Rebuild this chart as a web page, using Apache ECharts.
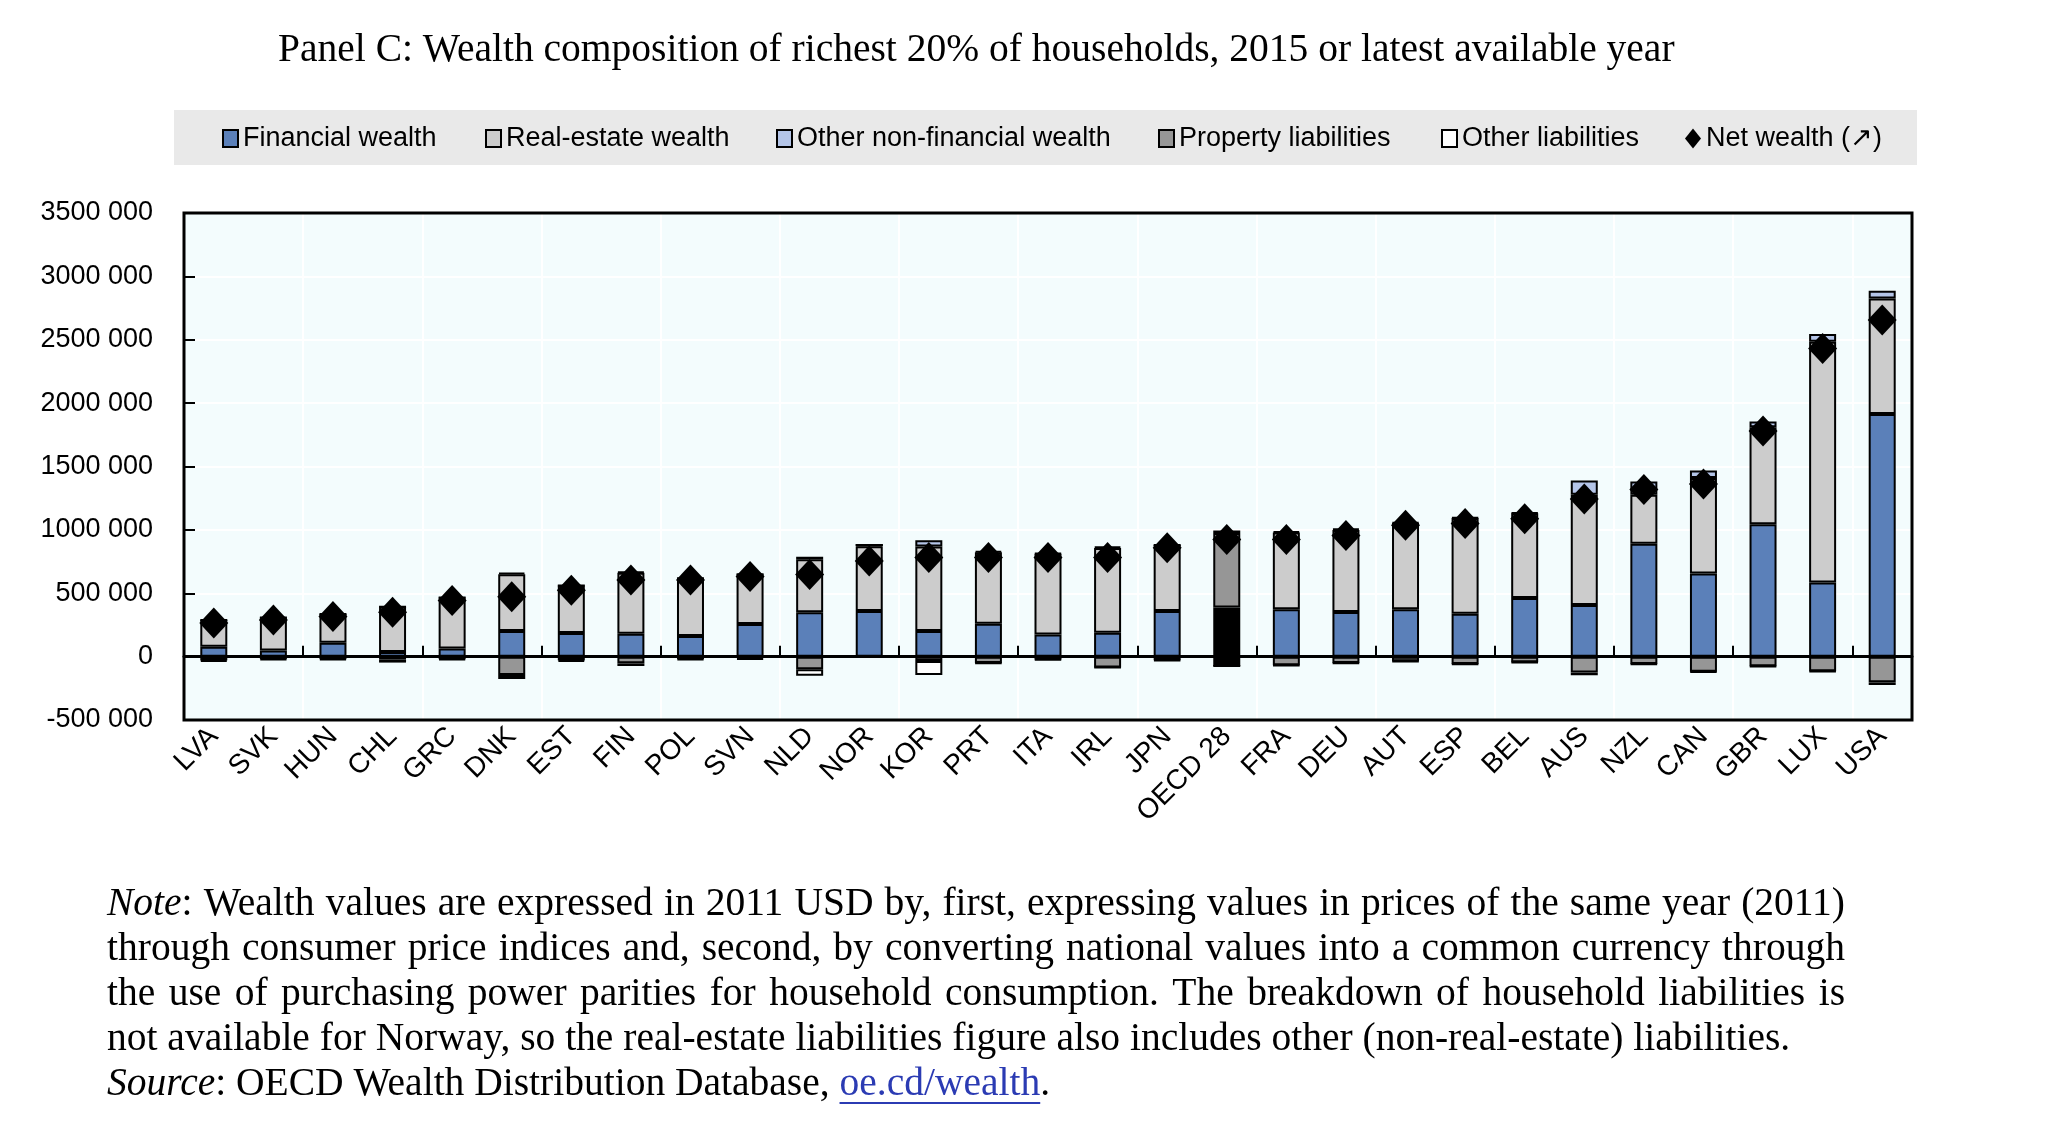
<!DOCTYPE html>
<html><head><meta charset="utf-8">
<script src="https://cdn.jsdelivr.net/npm/echarts@6/dist/echarts.min.js"></script>
<style>html,body{margin:0;padding:0;background:#fff}#c{width:2048px;height:1133px}</style>
</head><body><div id="c"></div>
<script>
const categories = ['LVA','SVK','HUN','CHL','GRC','DNK','EST','FIN','POL','SVN','NLD','NOR','KOR','PRT','ITA','IRL','JPN','OECD 28','FRA','DEU','AUT','ESP','BEL','AUS','NZL','CAN','GBR','LUX','USA'];
const financialWealth = [78000,48000,110000,36000,65000,203000,186000,180000,163000,257000,350000,359000,203000,260000,175000,189000,359000,387000,373000,353000,373000,339000,463000,407000,890000,655000,1045000,585000,1915000];
const realEstateWealth = [210000,260000,226000,357000,401000,446000,376000,481000,456000,393000,418000,512000,665000,563000,636000,668000,522000,588000,606000,647000,681000,755000,668000,870000,387000,755000,765000,1900000,910000];
const otherNonFinancialWealth = [0,0,0,0,0,12000,0,8000,0,0,20000,10000,50000,10000,5000,10000,0,20000,10000,8000,5000,5000,5000,113000,104000,59000,45000,60000,62000];
const propertyLiabilities = [-30000,-20000,-20000,-22000,-20000,-145000,-30000,-53000,-20000,-15000,-100000,0,-35000,-50000,-22000,-85000,-28000,-74000,-68000,-50000,-36000,-58000,-44000,-126000,-58000,-120000,-76000,-115000,-203000];
const otherLiabilities = [-8000,-6000,-6000,-25000,-6000,-32000,-9000,-21000,-6000,-6000,-50000,0,-110000,-3000,-4000,-2000,-4000,0,-3000,-3000,-3000,-3000,-3000,-21000,-3000,-4000,-3000,-3000,-21000];
const netWealth = [265000,288000,316000,350000,443000,472000,523000,605000,605000,633000,647000,754000,782000,782000,782000,782000,859000,924000,924000,955000,1037000,1051000,1088000,1243000,1319000,1362000,1780000,2430000,2655000];

const titleText = 'Panel C: Wealth composition of richest 20% of households, 2015 or latest available year';
const noteLines = [
 '*Note*: Wealth values are expressed in 2011 USD by, first, expressing values in prices of the same year (2011)',
 'through consumer price indices and, second, by converting national values into a common currency through',
 'the use of purchasing power parities for household consumption. The breakdown of household liabilities is',
 'not available for Norway, so the real-estate liabilities figure also includes other (non-real-estate) liabilities.',
 '*Source*: OECD Wealth Distribution Database, [oe.cd/wealth].'
];
const justifyLine = [true,true,true,false,false];

const SANS = "'Liberation Sans Narrow','Arial Narrow','Liberation Sans',Arial,sans-serif";
const SERIF = "'Liberation Serif','Times New Roman',serif";

function withOecd(arr, color){
  return arr.map((v,i)=> categories[i]==='OECD 28' ? {value:v, itemStyle:{color:color}} : v);
}
function fmtY(v){
  if (v===0) return '0';
  const s = v<0?'-':'';
  return s + (Math.abs(v)/1000) + ' 000';
}

// Plot frame geometry
const G = {left:184, top:213, right:1912, bottom:720};

// Note layout (justified, word by word)
const NOTE_FS = 39.5, NOTE_X = 107, NOTE_W = 1738, NOTE_Y0 = 905, NOTE_DY = 45;
const mctx = document.createElement('canvas').getContext('2d');
function fontOf(kind){ return (kind==='i'?'italic ':'') + NOTE_FS + 'px ' + SERIF; }
function measure(t, kind){ mctx.font = fontOf(kind); return mctx.measureText(t).width; }
const noteGraphics = [];
noteLines.forEach((line, li)=>{
  const tokens = line.split(' ').map(tok=>{
    const pieces = [];
    const re = /(\*[^*]+\*|\[[^\]]+\]|[^*\[\]]+)/g; let m;
    while ((m = re.exec(tok))){
      const s = m[0];
      if (s[0]==='*') pieces.push({t:s.slice(1,-1), k:'i'});
      else if (s[0]==='[') pieces.push({t:s.slice(1,-1), k:'l'});
      else pieces.push({t:s, k:'n'});
    }
    pieces.forEach(p=>p.w = measure(p.t, p.k));
    return {pieces, w: pieces.reduce((a,p)=>a+p.w,0)};
  });
  const sum = tokens.reduce((a,t)=>a+t.w,0);
  const gap = justifyLine[li] ? (NOTE_W - sum)/(tokens.length-1) : measure(' ','n');
  let x = NOTE_X; const y = NOTE_Y0 + li*NOTE_DY;
  tokens.forEach(tok=>{
    tok.pieces.forEach(p=>{
      const fill = p.k==='l' ? '#2b3bb3' : '#000';
      noteGraphics.push({type:'text', x:x, y:y, silent:true, style:{text:p.t, font:fontOf(p.k), fill:fill, align:'left', verticalAlign:'middle'}});
      if (p.k==='l') noteGraphics.push({type:'line', silent:true, shape:{x1:x, y1:y+18, x2:x+p.w, y2:y+18}, style:{stroke:'#2b3bb3', lineWidth:2}});
      x += p.w;
    });
    x += gap;
  });
});

const legendSpec = [['Financial wealth',222],['Real-estate wealth',485],['Other non-financial wealth',776],['Property liabilities',1158],['Other liabilities',1441],['Net wealth (↗)',1685]];

const BORDER = {borderColor:'#000', borderWidth:2};
const BW = 27;
const chart = echarts.init(document.getElementById('c'));
chart.setOption({
  animation:false,
  backgroundColor:'#fff',
  title:{text:titleText, left:273, top:26, textStyle:{fontFamily:SERIF, fontSize:39.5, fontWeight:'normal', color:'#000'}},
  graphic:[
    {type:'rect', z:-10, silent:true, shape:{x:174, y:110, width:1743, height:55}, style:{fill:'#e9e9e9'}},
    {type:'rect', z:100, silent:true, shape:{x:G.left, y:G.top, width:G.right-G.left, height:G.bottom-G.top}, style:{fill:null, stroke:'#000', lineWidth:3}}
  ].concat(noteGraphics),
  legend: legendSpec.map(([n,x])=>({
    data:[n], left:x, top:125, padding:0, itemGap:0,
    icon: n.startsWith('Net') ? 'diamond' : 'rect',
    itemWidth: n.startsWith('Net')?16:15, itemHeight: n.startsWith('Net')?20:17,
    selectedMode:false,
    textStyle:{fontFamily:SANS, fontSize:27, color:'#000'}
  })),
  grid:{left:G.left, right:2048-G.right, top:G.top, bottom:1133-G.bottom, show:true, backgroundColor:'#f3fcfd', borderWidth:0},
  xAxis:[
    {type:'category', data:categories, position:'bottom',
     axisLine:{show:false, onZero:false}, axisTick:{show:false}, splitLine:{show:false},
     axisLabel:{interval:0, rotate:45, margin:12, fontFamily:SANS, fontSize:28, color:'#000'}},
    {type:'category', data:categories, position:'bottom',
     axisLine:{show:true, onZero:true, lineStyle:{color:'#000', width:3}},
     axisTick:{show:true, inside:true, length:11, lineStyle:{color:'#000', width:2}},
     axisLabel:{show:false},
     splitLine:{show:true, lineStyle:{color:'#ffffff', width:2}}}
  ],
  yAxis:{type:'value', min:-500000, max:3500000, interval:500000,
    axisLine:{show:false}, axisTick:{show:true, inside:true, length:11, lineStyle:{color:'#000', width:2}},
    axisLabel:{formatter:fmtY, margin:31, fontFamily:SANS, fontSize:27, color:'#000'},
    splitLine:{show:true, lineStyle:{color:'#ffffff', width:2}}},
  series:[
    {name:'Financial wealth', type:'bar', stack:'w', barWidth:BW, xAxisIndex:0, data:withOecd(financialWealth,'#000'), itemStyle:Object.assign({color:'#5b80b9'},BORDER)},
    {name:'Real-estate wealth', type:'bar', stack:'w', barWidth:BW, xAxisIndex:0, data:withOecd(realEstateWealth,'#969696'), itemStyle:Object.assign({color:'#cccccc'},BORDER)},
    {name:'Other non-financial wealth', type:'bar', stack:'w', barWidth:BW, xAxisIndex:0, data:withOecd(otherNonFinancialWealth,'#ffffff'), itemStyle:Object.assign({color:'#b4c5e8'},BORDER)},
    {name:'Property liabilities', type:'bar', stack:'w', barWidth:BW, xAxisIndex:0, data:withOecd(propertyLiabilities,'#000'), itemStyle:Object.assign({color:'#969696'},BORDER)},
    {name:'Other liabilities', type:'bar', stack:'w', barWidth:BW, xAxisIndex:0, data:withOecd(otherLiabilities,'#000'), itemStyle:Object.assign({color:'#ffffff'},BORDER)},
    {name:'Net wealth (↗)', type:'scatter', xAxisIndex:0, symbol:'diamond', symbolSize:[29,31], z:5, itemStyle:{color:'#000', opacity:1}, data:netWealth}
  ]
});
</script></body></html>
